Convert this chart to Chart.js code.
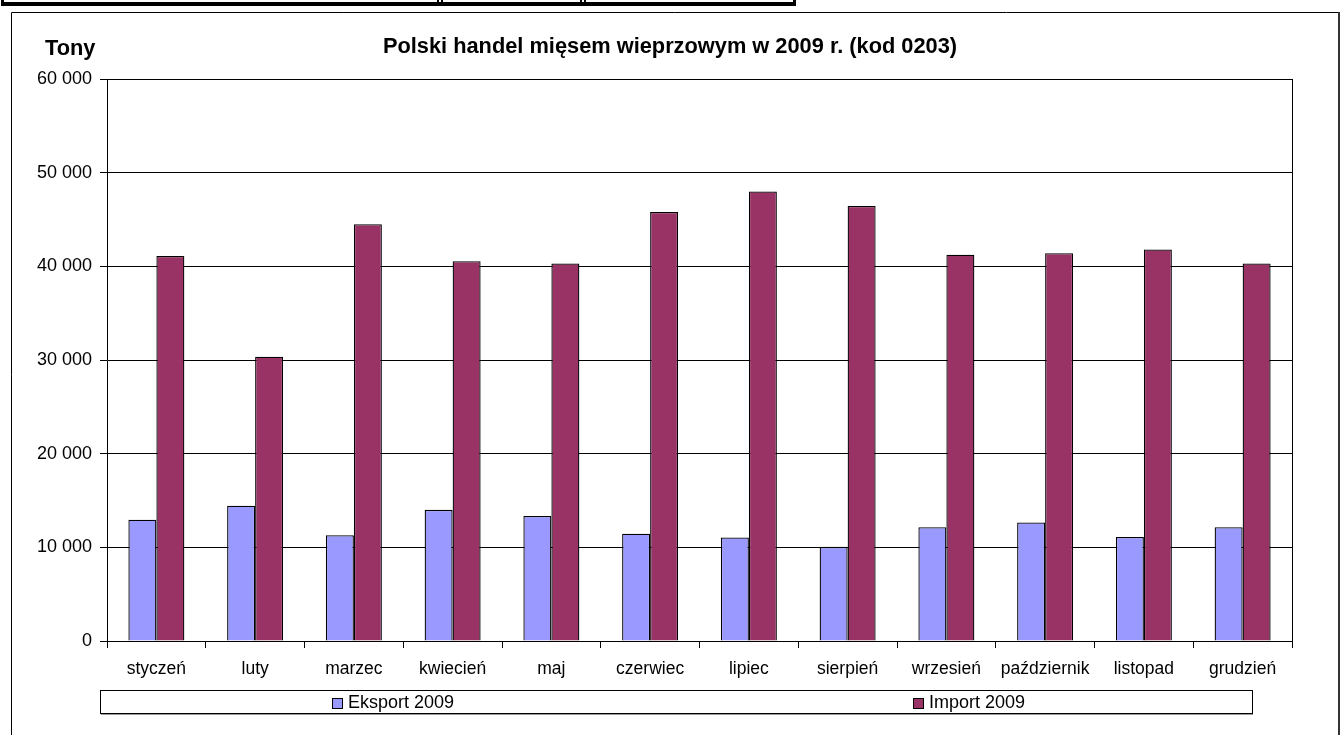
<!DOCTYPE html>
<html>
<head>
<meta charset="utf-8">
<script src="https://cdn.jsdelivr.net/npm/chart.js@4"></script>
<style>
  html, body { margin: 0; padding: 0; background: #fff; }
  #c { display: block; }
</style>
</head>
<body>
<canvas id="c" width="1343" height="735"></canvas>
<script>
const chartTitle = 'Polski handel mięsem wieprzowym w 2009 r. (kod 0203)';
const unitLabel = 'Tony';
const months = ['styczeń','luty','marzec','kwiecień','maj','czerwiec','lipiec','sierpień','wrzesień','październik','listopad','grudzień'];
const seriesNames = ['Eksport 2009', 'Import 2009'];
const eksport2009 = [12950, 14450, 11300, 14000, 13350, 11450, 11050, 10050, 12150, 12650, 11100, 12150];
const import2009 = [41100, 30350, 44500, 40550, 40300, 45800, 48000, 46450, 41250, 41400, 41800, 40300];
const yTicks = [0, 10000, 20000, 30000, 40000, 50000, 60000];

const FONT = '"Liberation Sans", Arial, sans-serif';

function fmt(v) {
  return String(v).replace(/\B(?=(\d{3})+(?!\d))/g, ' ');
}

const decor = {
  id: 'decor',
  beforeDraw(chart) {
    const ctx = chart.ctx;
    ctx.save();
    ctx.fillStyle = '#fff';
    ctx.fillRect(0, 0, chart.width, chart.height);
    // top table fragment
    ctx.fillStyle = '#000';
    ctx.fillRect(2, 2, 793, 4);
    ctx.fillRect(1, 0, 3, 6);
    ctx.fillRect(437, 0, 2, 6);
    ctx.fillRect(441, 0, 2, 6);
    ctx.fillRect(580, 0, 2, 6);
    ctx.fillRect(584, 0, 2, 6);
    ctx.fillRect(793, 0, 3, 6);
    // frame
    ctx.strokeStyle = '#000';
    ctx.lineWidth = 1;
    ctx.beginPath();
    ctx.moveTo(11.5, 740);
    ctx.lineTo(11.5, 12.5);
    ctx.lineTo(1338, 12.5);
    ctx.stroke();
    ctx.strokeStyle = '#333';
    ctx.lineWidth = 2;
    ctx.beginPath();
    ctx.moveTo(1339, 12);
    ctx.lineTo(1339, 740);
    ctx.stroke();
    // titles
    ctx.fillStyle = '#000';
    ctx.font = 'bold 21.8px ' + FONT;
    ctx.textBaseline = 'alphabetic';
    ctx.textAlign = 'center';
    ctx.fillText(chartTitle, 670, 53);
    ctx.textAlign = 'left';
    ctx.fillText(unitLabel, 45, 55);
    ctx.restore();
  },
  afterDraw(chart) {
    const ctx = chart.ctx;
    const a = chart.chartArea;
    ctx.save();
    // plot right border
    ctx.strokeStyle = '#000';
    ctx.lineWidth = 1;
    ctx.beginPath();
    ctx.moveTo(a.right + 0.5, a.top);
    ctx.lineTo(a.right + 0.5, a.bottom);
    ctx.stroke();
    // legend box
    const L = 100, T = 690, R = 1252, B = 713;
    ctx.strokeStyle = '#000';
    ctx.strokeRect(L + 0.5, T + 0.5, R - L, B - T);
    ctx.strokeStyle = '#999';
    ctx.beginPath();
    ctx.moveTo(L + 1, B + 1.5);
    ctx.lineTo(R + 1, B + 1.5);
    ctx.stroke();
    ctx.font = '18px ' + FONT;
    ctx.textBaseline = 'middle';
    ctx.textAlign = 'left';
    const cellW = (R - L) / chart.data.datasets.length;
    chart.data.datasets.forEach((ds, i) => {
      const tw = ctx.measureText(ds.label).width;
      const itemW = 16 + tw;
      const x0 = Math.round(L + (i + 0.5) * cellW - itemW / 2 + 5);
      ctx.fillStyle = ds.backgroundColor;
      ctx.fillRect(x0, 698, 10, 10);
      ctx.strokeStyle = '#000';
      ctx.strokeRect(x0 + 0.5, 698.5, 10, 10);
      ctx.fillStyle = '#000';
      ctx.fillText(ds.label, x0 + 16, 703);
    });
    ctx.restore();
  }
};

new Chart(document.getElementById('c'), {
  type: 'bar',
  data: {
    labels: months,
    datasets: [
      { label: seriesNames[0], data: eksport2009, backgroundColor: '#9999FF', borderColor: '#000', borderWidth: 1.3, barPercentage: 1, categoryPercentage: 0.567 },
      { label: seriesNames[1], data: import2009, backgroundColor: '#993366', borderColor: '#000', borderWidth: 1.3, barPercentage: 1, categoryPercentage: 0.567 }
    ]
  },
  options: {
    responsive: false,
    animation: false,
    devicePixelRatio: 1,
    layout: { padding: { left: 0, top: 79, right: 51, bottom: 0 } },
    plugins: {
      legend: { display: false },
      title: { display: false },
      tooltip: { enabled: false }
    },
    scales: {
      x: {
        afterFit(s) { s.height = 94; },
        grid: { offset: true, drawOnChartArea: false, drawTicks: true, tickLength: 7, color: '#000', lineWidth: 1 },
        border: { display: true, color: '#000', width: 1 },
        ticks: { color: '#000', font: { family: FONT, size: 17.5 }, padding: 11, maxRotation: 0, autoSkip: false }
      },
      y: {
        min: 0,
        max: 60000,
        afterFit(s) { s.width = 107; },
        afterBuildTicks(s) { s.ticks = yTicks.map(v => ({ value: v })); },
        grid: { color: '#000', lineWidth: 1, tickLength: 7, drawTicks: true },
        border: { display: true, color: '#000', width: 1 },
        ticks: { color: '#000', font: { family: FONT, size: 18 }, padding: 8, callback: v => fmt(v) }
      }
    }
  },
  plugins: [decor]
});
</script>
</body>
</html>
